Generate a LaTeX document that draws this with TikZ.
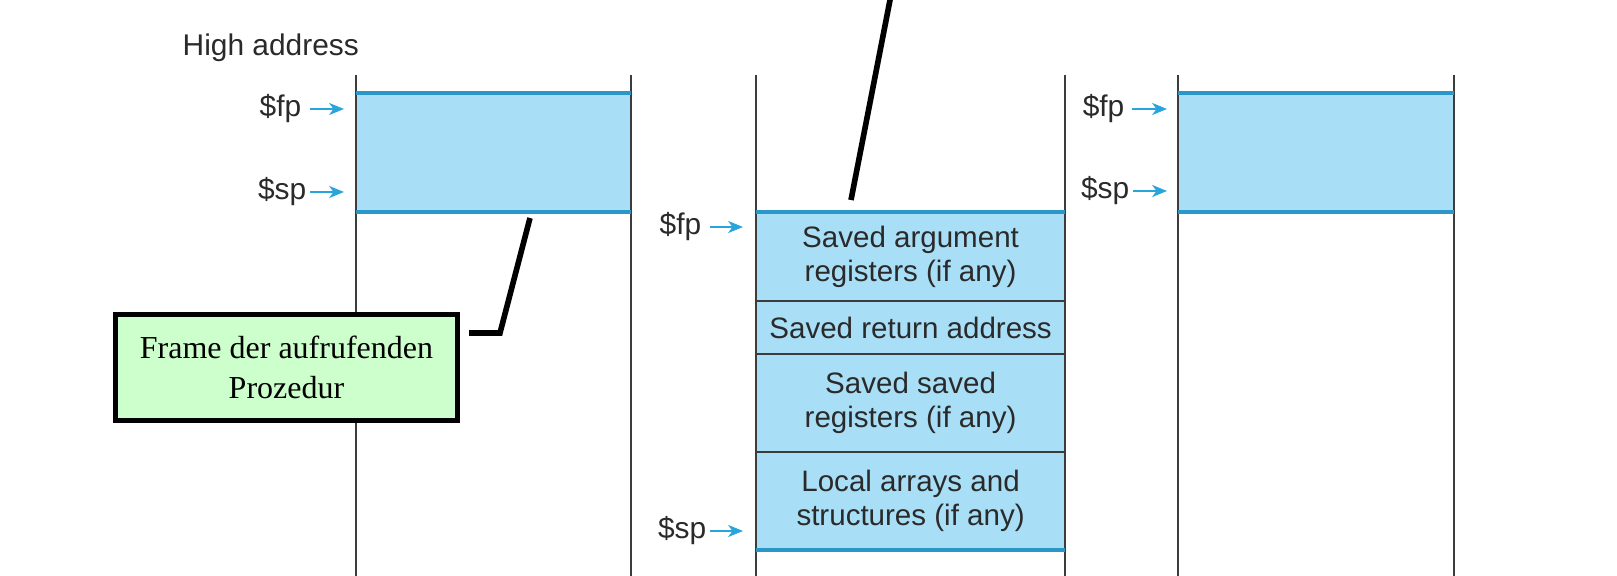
\documentclass[tikz,border=0pt]{standalone}
\usepackage{fontspec}
\setmainfont{Liberation Sans}
\newfontfamily\serifx{Liberation Serif}
\usetikzlibrary{arrows.meta}
\definecolor{stackfill}{HTML}{A8DEF6}
\definecolor{edgeblue}{HTML}{2A97C8}
\definecolor{ptrblue}{HTML}{2AA4DC}
\definecolor{linegray}{HTML}{3C3C3C}
\definecolor{textgray}{HTML}{2A2A2A}
\definecolor{notegreen}{HTML}{CCFFCC}
\tikzset{
  frame/.style={fill=stackfill, draw=none, inner sep=0, outer sep=0},
  cell/.style={fill=stackfill, draw=linegray, line width=0.6pt, inner sep=0, outer sep=0,
    minimum width=3.09cm, align=center, text=textgray,
    font=\fontsize{8.4}{9.6}\selectfont},
  edge/.style={draw=edgeblue, line width=1.15pt},
  vline/.style={draw=linegray, line width=0.6pt},
  lbl/.style={inner sep=0, text=textgray, font=\fontsize{8.5}{9.6}\selectfont},
  ptr/.style={draw=ptrblue, line width=0.6pt, -{Stealth[length=4.2pt,width=3.4pt,inset=1.2pt]}},
  note/.style={draw=black, fill=notegreen, line width=1.4pt, align=center,
    minimum width=3.42cm, minimum height=1.06cm, inner sep=0,
    font=\serifx\fontsize{9.1}{11.4}\selectfont},
  leader/.style={draw=black, line width=1.6pt}
}
\begin{document}
\begin{tikzpicture}[x=0.01cm,y=-0.01cm]
\useasboundingbox[fill=white] (0,0) rectangle (1617,576);

% frames
\node[frame, anchor=north west, minimum width=2.75cm, minimum height=1.19cm] (L) at (356,93) {};
\node[frame, anchor=north west, minimum width=2.76cm, minimum height=1.19cm] (R) at (1178,93) {};

\node[cell, anchor=north west, minimum height=0.89cm] (m1) at (756,212) {Saved argument\\registers (if any)};
\node[cell, anchor=north west, minimum height=0.53cm] (m2) at (m1.south west) {Saved return address};
\node[cell, anchor=north west, minimum height=0.98cm] (m3) at (m2.south west) {Saved saved\\registers (if any)};
\node[cell, anchor=north west, minimum height=0.98cm] (m4) at (m3.south west) {Local arrays and\\structures (if any)};

% vertical lines
\foreach \x/\n in {356/a,631/b,756/c,1065/d,1178/e,1454/f}{
  \coordinate (vt\n) at (\x,75);
  \coordinate (vb\n) at (\x,576);
  \draw[vline] (vt\n) -- (vb\n);
}

% blue edges
\draw[edge] (L.north west) -- (L.north east);
\draw[edge] (L.south west) -- (L.south east);
\draw[edge] (R.north west) -- (R.north east);
\draw[edge] (R.south west) -- (R.south east);
\draw[edge] (m1.north west) -- (m1.north east);
\draw[edge] (m4.south west) -- (m4.south east);

% labels
\node[lbl, anchor=west] (hi) at (182,48) {High address};

\node[lbl, anchor=east] (fpL) at (302,109) {\$fp};
\coordinate (fpLt) at (344,109);
\draw[ptr] ([xshift=0.08cm]fpL.east) -- (fpLt);
\node[lbl, anchor=east] (spL) at (307,192) {\$sp};
\coordinate (spLt) at (344,192);
\draw[ptr] ([xshift=0.03cm]spL.east) -- (spLt);

\node[lbl, anchor=east] (fpM) at (702,227) {\$fp};
\coordinate (fpMt) at (743,227);
\draw[ptr] ([xshift=0.08cm]fpM.east) -- (fpMt);
\node[lbl, anchor=east] (spM) at (707,531) {\$sp};
\coordinate (spMt) at (743,531);
\draw[ptr] ([xshift=0.03cm]spM.east) -- (spMt);

\node[lbl, anchor=east] (fpR) at (1125,109) {\$fp};
\coordinate (fpRt) at (1167,109);
\draw[ptr] ([xshift=0.07cm]fpR.east) -- (fpRt);
\node[lbl, anchor=east] (spR) at (1130,191) {\$sp};
\coordinate (spRt) at (1167,191);
\draw[ptr] ([xshift=0.03cm]spR.east) -- (spRt);

% note box and leaders
\node[note] (gb) at (286.5,367.5) {Frame der aufrufenden\\Prozedur};
\coordinate (a1) at (500,333);
\coordinate (a2) at (530,218);
\path (gb.east |- a1) ++(0.09cm,0) coordinate (a0);
\draw[leader] (a0) -- (a1) -- (a2);

\coordinate (t1) at (851,200);
\coordinate (t2) at (891,-5);
\draw[leader] (t1) -- (t2);
\end{tikzpicture}
\end{document}
